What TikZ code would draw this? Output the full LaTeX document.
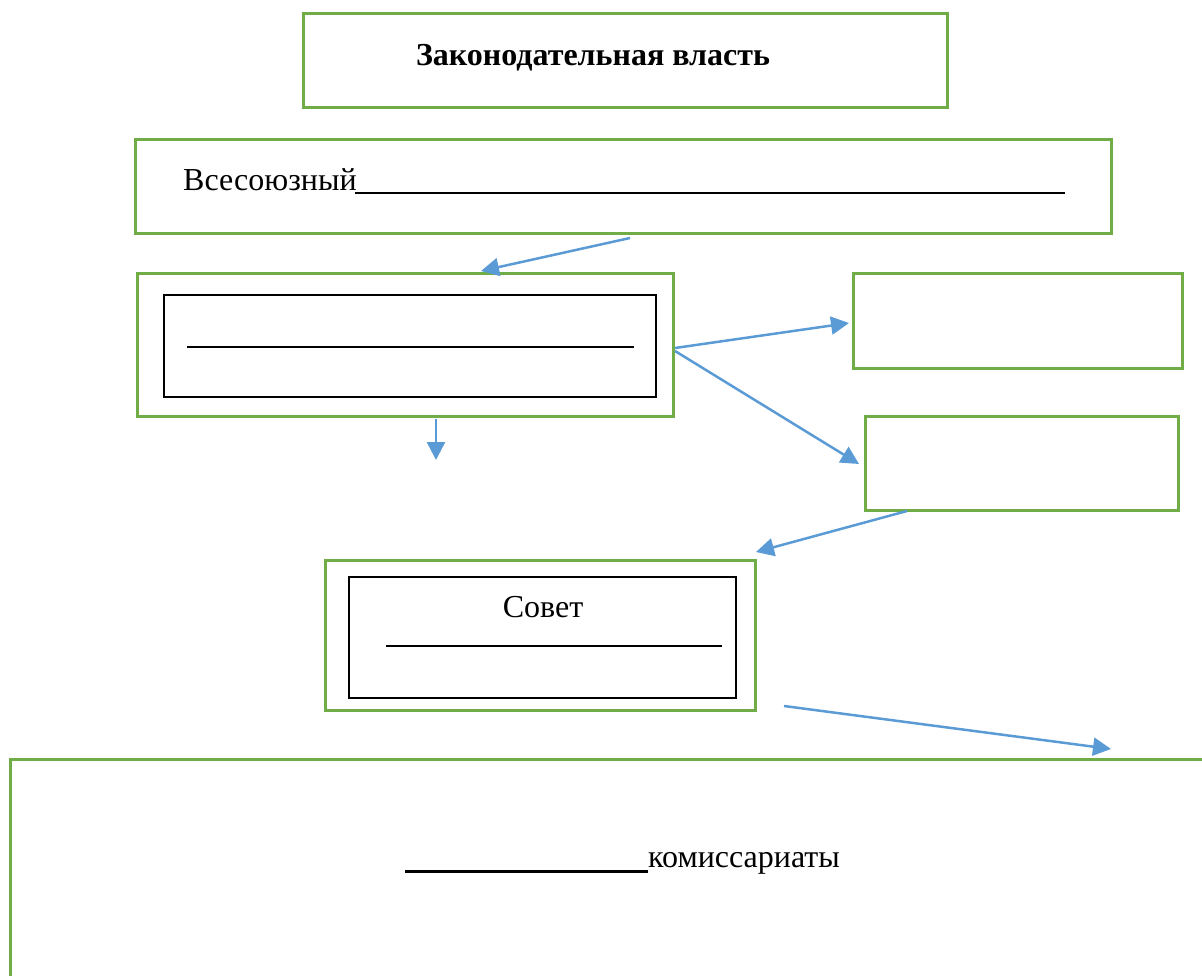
\documentclass[tikz,border=0pt]{standalone}
\usepackage{fontspec}
\setmainfont{Liberation Serif}
\usetikzlibrary{arrows.meta}
\definecolor{grn}{HTML}{70AD47}
\definecolor{blu}{HTML}{5B9BD5}
\begin{document}
\begin{tikzpicture}[x=1pt,y=-1pt,
  gbox/.style={draw=grn,line width=3pt,inner sep=0pt},
  kbox/.style={draw=black,line width=2pt,inner sep=0pt},
  conn/.style={draw=blu,line width=2.5pt,-{Triangle[length=18pt,width=18pt]}},
  txt/.style={font=\fontsize{32}{36}\selectfont,inner sep=0pt,anchor=base west}]
\useasboundingbox (0,0) rectangle (1202,976);
\clip (0,0) rectangle (1202,976);
% boxes
\draw[gbox] (303,14) rectangle (947,108);
\node[txt,anchor=base,font=\fontsize{32}{36}\selectfont\bfseries] (t1) at (593,66) {Законодательная власть};
\draw[gbox] (135,140) rectangle (1111,234);
\node[txt] (t2) at (183,191) {Всесоюзный};
\draw[line width=2pt] (355,193) -- (1065,193);
\draw[gbox] (137,274) rectangle (673,416);
\draw[kbox] (164,295) rectangle (656,397);
\draw[line width=1.5pt] (187,347) -- (634,347);
\draw[gbox] (853,274) rectangle (1182,368);
\draw[gbox] (865,416) rectangle (1178,510);
\draw[gbox] (325,560) rectangle (755,710);
\draw[kbox] (349,577) rectangle (736,698);
\node[txt,anchor=base] (t3) at (543,617) {Совет};
\draw[line width=1.5pt] (386,646) -- (722,646);
\draw[gbox] (10,759) rectangle (1230,1000);
\node[txt] (t4) at (648,867) {комиссариаты};
\draw[line width=3pt] (405,871) -- (648,871);
% connector endpoints
\coordinate (a1) at (630,238); \coordinate (a2) at (481,271);
\coordinate (b1) at (436,419); \coordinate (b2) at (436,460);
\coordinate (c1) at (675,348); \coordinate (c2) at (849,323);
\coordinate (d1) at (675,351); \coordinate (d2) at (859,464);
\coordinate (e1) at (907,511); \coordinate (e2) at (756,552);
\coordinate (f1) at (784,706); \coordinate (f2) at (1111,749);
\draw[conn] (a1) -- (a2);
\draw[conn] (b1) -- (b2);
\draw[conn] (c1) -- (c2);
\draw[conn] (d1) -- (d2);
\draw[conn] (e1) -- (e2);
\draw[conn] (f1) -- (f2);
\end{tikzpicture}
\end{document}
